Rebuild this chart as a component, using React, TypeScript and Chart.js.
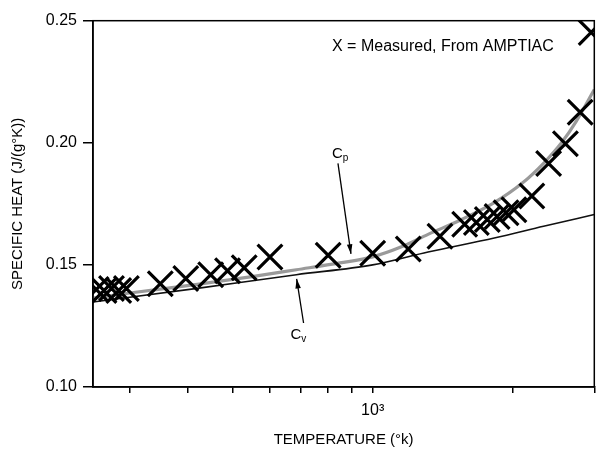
import React, { useEffect, useRef } from "react";
import { Chart, registerables } from "chart.js";

Chart.register(...registerables);

// Temperature (K) and specific heat (J/(g·K))
const cpTemps = [250, 300, 419, 550, 685, 850, 1000, 1150, 1316, 1550, 1827, 2100, 2333, 2550, 2745, 3000];
const cpValues = [0.1364, 0.1385, 0.142, 0.1452, 0.148, 0.1508, 0.1533, 0.1573, 0.1625, 0.1685, 0.1755, 0.1835, 0.1916, 0.2, 0.2089, 0.2218];

const cvTemps = [250, 419, 685, 1000, 1316, 1827, 2333, 3000];
const cvValues = [0.1348, 0.1404, 0.146, 0.150, 0.1553, 0.161, 0.1658, 0.1706];

const measuredTemps = [254, 264, 274, 284, 295, 349, 396, 448, 487, 529, 601, 802, 1000, 1193, 1396, 1578, 1672, 1765, 1853, 1937, 2014, 2201, 2392, 2600, 2797, 2954];
const measuredValues = [0.1399, 0.1395, 0.1403, 0.1395, 0.1403, 0.1423, 0.1444, 0.146, 0.1476, 0.1488, 0.1532, 0.154, 0.1548, 0.1565, 0.1617, 0.1666, 0.1674, 0.1686, 0.1698, 0.1714, 0.1726, 0.1782, 0.1915, 0.1996, 0.2125, 0.2452];

const xTickValues = [300, 400, 500, 600, 700, 800, 900, 1000, 2000, 3000];
const yTickValues = [0.1, 0.15, 0.2, 0.25];

const FONT = "'Liberation Sans', Arial, Helvetica, sans-serif";

const frameAndNotes = {
  id: "frameAndNotes",
  afterDraw(chart: any) {
    const { ctx, chartArea, scales } = chart;
    const xs = scales.x;
    const ys = scales.y;
    ctx.save();
    ctx.strokeStyle = "#000";
    ctx.lineWidth = 1.5;
    ctx.strokeRect(chartArea.left, chartArea.top, chartArea.right - chartArea.left, chartArea.bottom - chartArea.top);

    ctx.fillStyle = "#000";
    ctx.font = `16px ${FONT}`;
    ctx.textBaseline = "middle";
    ctx.textAlign = "left";
    ctx.fillText("X = Measured, From AMPTIAC", chartArea.left + 239, chartArea.top + 26);

    const drawSubLabel = (main: string, sub: string, px: number, py: number) => {
      ctx.font = `15px ${FONT}`;
      ctx.textAlign = "left";
      ctx.textBaseline = "middle";
      const w = ctx.measureText(main).width;
      ctx.font = `10px ${FONT}`;
      const ws = ctx.measureText(sub).width;
      const start = px - (w + ws) / 2;
      ctx.font = `15px ${FONT}`;
      ctx.fillText(main, start, py);
      ctx.font = `10px ${FONT}`;
      ctx.fillText(sub, start + w, py + 5);
    };

    const arrow = (x1: number, y1: number, x2: number, y2: number) => {
      ctx.beginPath();
      ctx.lineWidth = 1.3;
      ctx.moveTo(x1, y1);
      ctx.lineTo(x2, y2);
      ctx.stroke();
      const ang = Math.atan2(y2 - y1, x2 - x1);
      const len = 10;
      const spread = 0.28;
      ctx.beginPath();
      ctx.moveTo(x2, y2);
      ctx.lineTo(x2 - len * Math.cos(ang - spread), y2 - len * Math.sin(ang - spread));
      ctx.lineTo(x2 - len * Math.cos(ang + spread), y2 - len * Math.sin(ang + spread));
      ctx.closePath();
      ctx.fill();
    };

    // Cp annotation
    drawSubLabel("C", "p", xs.getPixelForValue(851), ys.getPixelForValue(0.1956));
    arrow(xs.getPixelForValue(842), ys.getPixelForValue(0.1916), xs.getPixelForValue(898), ys.getPixelForValue(0.1545));
    // Cv annotation
    drawSubLabel("C", "v", xs.getPixelForValue(692), ys.getPixelForValue(0.1215));
    arrow(xs.getPixelForValue(710), ys.getPixelForValue(0.1262), xs.getPixelForValue(686), ys.getPixelForValue(0.1443));
    ctx.restore();
  },
};

export default function App() {
  const ref = useRef<HTMLCanvasElement | null>(null);

  useEffect(() => {
    if (!ref.current) return;
    Chart.defaults.font.family = FONT;
    Chart.defaults.color = "#000";
    const chart = new Chart(ref.current, {
      type: "line",
      data: {
        datasets: [
          {
            label: "Measured",
            data: measuredTemps.map((t, i) => ({ x: t, y: measuredValues[i] })),
            showLine: false,
            pointStyle: "crossRot",
            pointRadius: 17.5,
            pointBorderWidth: 3.2,
            borderColor: "#000",
            backgroundColor: "#000",
          },
          {
            label: "Cv",
            data: cvTemps.map((t, i) => ({ x: t, y: cvValues[i] })),
            borderColor: "#111",
            borderWidth: 1.6,
            pointRadius: 0,
            cubicInterpolationMode: "monotone",
          },
          {
            label: "Cp",
            data: cpTemps.map((t, i) => ({ x: t, y: cpValues[i] })),
            borderColor: "#9a9a9a",
            borderWidth: 3.2,
            pointRadius: 0,
            cubicInterpolationMode: "monotone",
          },
        ],
      },
      options: {
        responsive: false,
        animation: false,
        layout: { padding: { left: 0, top: 15, right: 15, bottom: 0 } },
        plugins: { legend: { display: false }, tooltip: { enabled: false } },
        scales: {
          x: {
            type: "logarithmic",
            min: 250,
            max: 3000,
            afterBuildTicks: (scale: any) => {
              scale.ticks = xTickValues.map((v) => ({ value: v }));
            },
            afterFit: (scale: any) => {
              scale.height = 62;
            },
            ticks: {
              autoSkip: false,
              maxRotation: 0,
              padding: 8,
              font: { size: 16 },
              color: "#000",
              callback: (v: any) => (Number(v) === 1000 ? "10³" : ""),
            },
            grid: { drawOnChartArea: false, drawTicks: true, tickLength: 6, color: "#000", lineWidth: 1.5 },
            border: { color: "#000", width: 1.5 },
            title: { display: true, text: "TEMPERATURE (°k)", font: { size: 15 }, color: "#000", padding: { top: 0, bottom: 0 } },
          },
          y: {
            type: "linear",
            min: 0.1,
            max: 0.25,
            afterBuildTicks: (scale: any) => {
              scale.ticks = yTickValues.map((v) => ({ value: v }));
            },
            afterFit: (scale: any) => {
              scale.width = 93;
            },
            ticks: {
              padding: 6,
              font: { size: 16 },
              color: "#000",
              callback: (v: any) => Number(v).toFixed(2),
            },
            grid: { drawOnChartArea: false, drawTicks: true, tickLength: 10, color: "#000", lineWidth: 1.5 },
            border: { color: "#000", width: 1.5 },
            title: { display: true, text: "SPECIFIC HEAT (J/(g°K))", font: { size: 15 }, color: "#000", padding: { top: 9, bottom: 0 } },
          },
        },
      },
      plugins: [frameAndNotes],
    } as any);
    return () => chart.destroy();
  }, []);

  return (
    <div style={{ position: "fixed", left: 0, top: 0, width: 615, height: 449, background: "#fff" }}>
      <canvas ref={ref} width={615} height={449} style={{ display: "block" }} />
    </div>
  );
}
